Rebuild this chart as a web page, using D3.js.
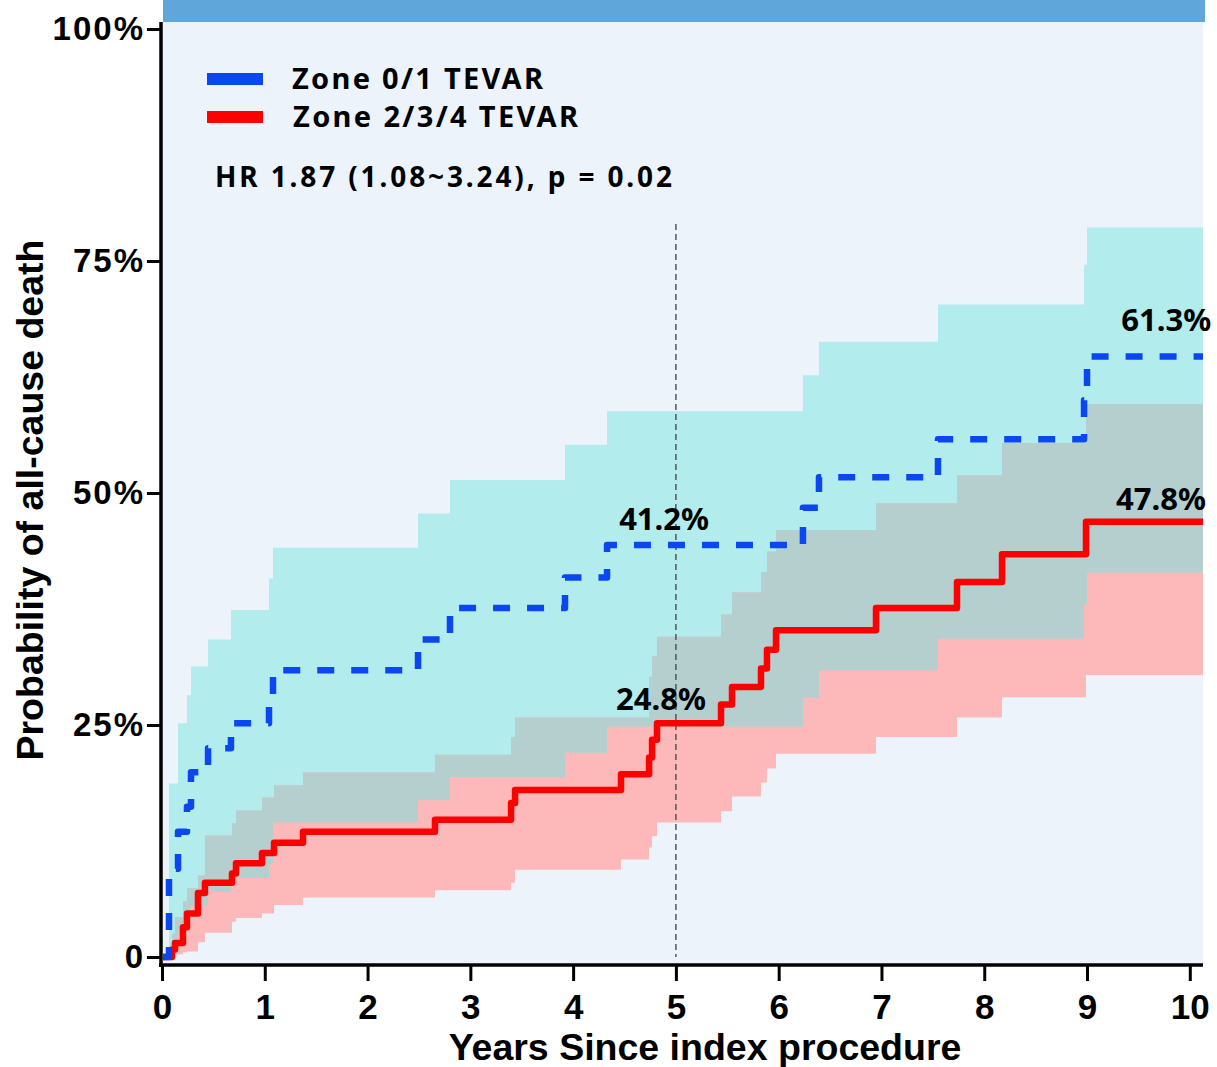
<!DOCTYPE html>
<html>
<head>
<meta charset="utf-8">
<script src="https://cdn.jsdelivr.net/npm/d3@7"></script>
<style>
  body { margin: 0; background: #fff; }
  svg { display: block; }
</style>
</head>
<body>
<svg id="chart" width="1217" height="1067"></svg>
<script>
// tick values / labels
var xTicks = [0, 1, 2, 3, 4, 5, 6, 7, 8, 9, 10];
var yTicks = [0, 0.25, 0.5, 0.75, 1];
var yTickLabels = ["0", "25%", "50%", "75%", "100%"];

// Zone 0/1 TEVAR : step times (years), estimate, lower and upper CI
var blueTime = [0.068, 0.156, 0.243, 0.282, 0.448, 0.671, 1.041, 1.080, 2.491, 2.802, 3.921, 4.330, 6.236, 6.392, 7.550, 8.971, 9.000];
var blueEst  = [0.095, 0.135, 0.162, 0.199, 0.225, 0.252, 0.280, 0.309, 0.342, 0.376, 0.409, 0.444, 0.484, 0.517, 0.558, 0.600, 0.647];
var blueLow  = [0.010, 0.025, 0.040, 0.055, 0.070, 0.085, 0.100, 0.145, 0.169, 0.194, 0.220, 0.248, 0.279, 0.309, 0.343, 0.380, 0.414];
var blueHigh = [0.187, 0.252, 0.282, 0.313, 0.342, 0.374, 0.408, 0.441, 0.478, 0.514, 0.552, 0.588, 0.627, 0.663, 0.703, 0.746, 0.786];

// Zone 2/3/4 TEVAR
var redTime = [0.097, 0.126, 0.204, 0.243, 0.350, 0.418, 0.681, 0.720, 0.973, 1.090, 1.372, 2.656, 3.396, 3.435, 4.466, 4.739, 4.768, 4.816, 5.439, 5.546, 5.828, 5.886, 5.974, 6.947, 7.735, 8.173, 8.990];
var redEst  = [0.008, 0.015, 0.032, 0.047, 0.069, 0.080, 0.090, 0.101, 0.112, 0.123, 0.135, 0.148, 0.166, 0.180, 0.197, 0.215, 0.234, 0.252, 0.272, 0.291, 0.311, 0.331, 0.352, 0.376, 0.404, 0.434, 0.469];
var redLow  = [0.000, 0.003, 0.005, 0.006, 0.016, 0.026, 0.038, 0.042, 0.047, 0.056, 0.064, 0.072, 0.080, 0.094, 0.105, 0.118, 0.130, 0.145, 0.157, 0.173, 0.188, 0.203, 0.219, 0.237, 0.258, 0.280, 0.304];
var redHigh = [0.025, 0.043, 0.060, 0.074, 0.088, 0.131, 0.144, 0.158, 0.172, 0.185, 0.199, 0.218, 0.237, 0.258, 0.258, 0.302, 0.324, 0.345, 0.369, 0.393, 0.415, 0.437, 0.460, 0.489, 0.519, 0.554, 0.596];

var legendNames = ["Zone 0/1 TEVAR", "Zone 2/3/4 TEVAR"];
var hrText = "HR 1.87 (1.08~3.24), p = 0.02";
var annoText = ["41.2%", "24.8%", "61.3%", "47.8%"];
var annoTime = [4.885, 4.855, 9.77, 9.72];
var annoProb = [0.46, 0.266, 0.675, 0.482];
var markYear = 5;       // dashed reference line
var markTop = 0.79;

var svg = d3.select("#chart");

var x = d3.scaleLinear().domain([0, 10]).range([162, 1189.8]);
var y = d3.scaleLinear().domain([0, 1]).range([957, 29]);
var plotLeft = 163, plotRight = 1203, plotTop = 22, plotBottom = 963;
var tEnd = x.invert(plotRight);

//build step series with a start point and an end point
var buildSeries = function(times, est, low, high) {
    var pts = [{t: 0, est: 0, lo: 0, hi: 0}];
    times.forEach(function(t, i) {
        pts.push({t: t, est: est[i], lo: low[i], hi: high[i]});
    });
    var last = pts[pts.length - 1];
    pts.push({t: tEnd, est: last.est, lo: last.lo, hi: last.hi});
    return pts;
};
var blue = buildSeries(blueTime, blueEst, blueLow, blueHigh);
var red = buildSeries(redTime, redEst, redLow, redHigh);

// top bar + plot background
svg.append("rect").attr("x", plotLeft).attr("y", 0)
    .attr("width", plotRight - plotLeft + 2).attr("height", plotTop)
    .attr("fill", "#5FA7DB");
svg.append("rect").attr("x", plotLeft).attr("y", plotTop)
    .attr("width", plotRight - plotLeft).attr("height", plotBottom - plotTop)
    .attr("fill", "#ECF3FB");

var defs = svg.append("defs");
defs.append("clipPath").attr("id", "plotClip")
    .append("rect").attr("x", plotLeft).attr("y", plotTop)
    .attr("width", plotRight - plotLeft).attr("height", plotBottom - plotTop);

var area = d3.area().curve(d3.curveStepAfter)
    .x(function(d) { return x(d.t); })
    .y0(function(d) { return y(d.lo); })
    .y1(function(d) { return y(d.hi); });
var line = d3.line().curve(d3.curveStepAfter)
    .x(function(d) { return x(d.t); })
    .y(function(d) { return y(d.est); });

defs.append("clipPath").attr("id", "blueBand")
    .append("path").attr("d", area(blue));

var g = svg.append("g").attr("clip-path", "url(#plotClip)");

g.append("path").attr("d", area(blue)).attr("fill", "#B2ECEC");
g.append("path").attr("d", area(red)).attr("fill", "#FDB9B9");
//overlap of both bands
g.append("path").attr("d", area(red)).attr("fill", "#B5CFCF")
    .attr("clip-path", "url(#blueBand)");

g.append("line")
    .attr("x1", x(markYear)).attr("x2", x(markYear))
    .attr("y1", y(markTop)).attr("y2", y(0))
    .attr("stroke", "#555").attr("stroke-width", 1.5)
    .attr("stroke-dasharray", "6,4");

g.append("path").attr("d", line(red))
    .attr("fill", "none").attr("stroke", "#FF0000")
    .attr("stroke-width", 6.5).attr("stroke-linejoin", "round");

g.append("path").attr("d", line(blue))
    .attr("fill", "none").attr("stroke", "#0A47F2")
    .attr("stroke-width", 6.5).attr("stroke-dasharray", "17,17")
    .attr("stroke-linejoin", "round");

// axes
var yAxis = svg.append("g").attr("transform", "translate(161,0)")
    .call(d3.axisLeft(y).tickValues(yTicks).tickSize(14).tickPadding(2)
        .tickFormat(function(d, i) { return yTickLabels[i]; }));
yAxis.select(".domain").remove();
yAxis.selectAll(".tick line").attr("stroke", "#000").attr("stroke-width", 3);
yAxis.selectAll(".tick text")
    .attr("font-family", "'Liberation Sans', Arial, sans-serif")
    .attr("font-weight", "bold").attr("font-size", 33)
    .attr("letter-spacing", 2).attr("fill", "#000");

var xAxis = svg.append("g").attr("transform", "translate(0,965)")
    .call(d3.axisBottom(x).tickValues(xTicks).tickSize(16).tickSizeOuter(0));
xAxis.select(".domain").remove();
xAxis.selectAll(".tick line").attr("stroke", "#000").attr("stroke-width", 3);
xAxis.selectAll(".tick text")
    .attr("y", 29).attr("dy", "0.71em")
    .attr("font-family", "'Liberation Sans', Arial, sans-serif")
    .attr("font-weight", "bold").attr("font-size", 35).attr("fill", "#000");

// spines
svg.append("line").attr("x1", 161).attr("x2", 161)
    .attr("y1", plotTop).attr("y2", 967)
    .attr("stroke", "#000").attr("stroke-width", 3.5);
svg.append("line").attr("x1", 159).attr("x2", plotRight)
    .attr("y1", 965).attr("y2", 965)
    .attr("stroke", "#000").attr("stroke-width", 3.5);

// axis titles
svg.append("text").attr("x", 705).attr("y", 1060)
    .attr("text-anchor", "middle")
    .attr("font-family", "'Liberation Sans', Arial, sans-serif")
    .attr("font-weight", "bold").attr("font-size", 37.5)
    .text("Years Since index procedure");
svg.append("text")
    .attr("transform", "translate(43,500) rotate(-90)")
    .attr("text-anchor", "middle")
    .attr("font-family", "'Liberation Sans', Arial, sans-serif")
    .attr("font-weight", "bold").attr("font-size", 37.5)
    .text("Probability of all-cause death");

// legend
var legColors = ["#0A47F2", "#FF0000"];
var legWidths = [251, 285];
legendNames.forEach(function(name, i) {
    var ly = 79 + i * 38;
    svg.append("rect").attr("x", 207).attr("y", ly - 6)
        .attr("width", 56).attr("height", 12).attr("fill", legColors[i]);
    svg.append("text").attr("x", 292 + i).attr("y", ly + 10)
        .attr("font-family", "'Noto Sans', sans-serif")
        .attr("font-weight", "bold").attr("font-size", 29)
        .attr("textLength", legWidths[i]).attr("lengthAdjust", "spacing")
        .text(name);
});

svg.append("text").attr("x", 215).attr("y", 187)
    .attr("font-family", "'Noto Sans', sans-serif")
    .attr("font-weight", "bold").attr("font-size", 28)
    .attr("textLength", 457).attr("lengthAdjust", "spacing")
    .text(hrText);

// value labels
annoText.forEach(function(txt, i) {
    svg.append("text")
        .attr("x", x(annoTime[i])).attr("y", y(annoProb[i]))
        .attr("text-anchor", "middle")
        .attr("font-family", "'Noto Sans', sans-serif")
        .attr("font-weight", "bold").attr("font-size", 31)
        .text(txt);
});
</script>
</body>
</html>
